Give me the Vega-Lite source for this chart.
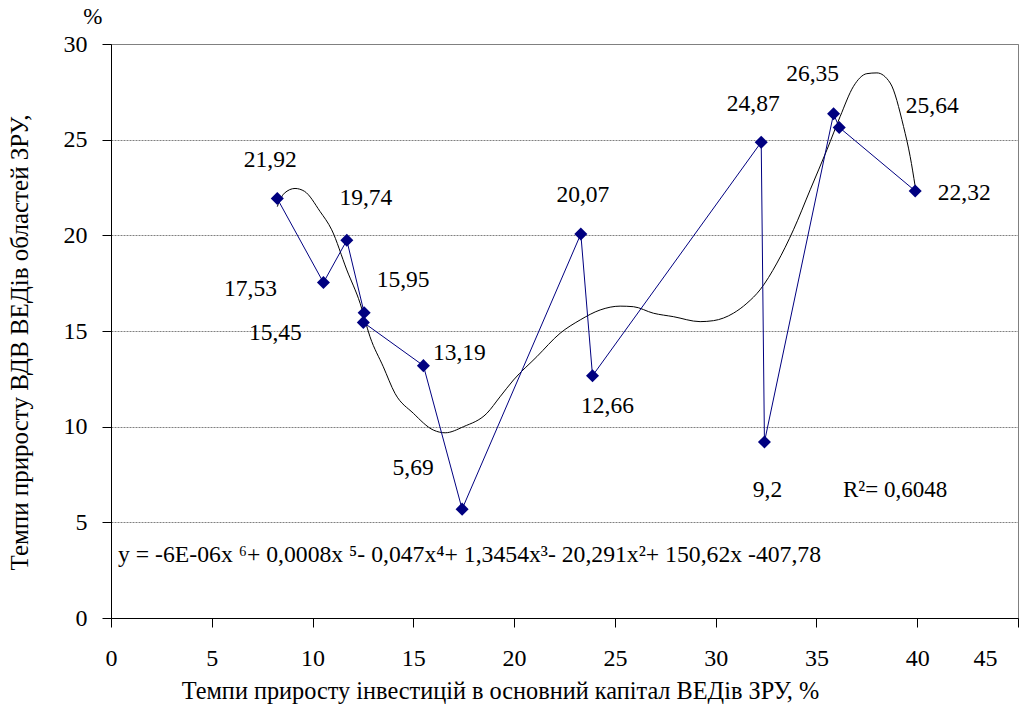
{
  "$schema": "https://vega.github.io/schema/vega-lite/v6.json",
  "width": 907,
  "height": 574,
  "autosize": "none",
  "padding": {"left": 111, "top": 44, "right": 2, "bottom": 86},
  "background": "white",
  "config": {
    "view": {"stroke": "#808080", "strokeWidth": 1},
    "font": "Liberation Serif",
    "axis": {"labelFont": "Liberation Serif", "titleFont": "Liberation Serif"},
    "text": {"font": "Liberation Serif", "fontSize": 23.5, "color": "black", "align": "center", "baseline": "middle"}
  },
  "datasets": {
    "pts": [
      {"i": 1, "x": 8.25, "y": 21.92, "lab": "21,92"},
      {"i": 2, "x": 10.54, "y": 17.53, "lab": "17,53"},
      {"i": 3, "x": 11.70, "y": 19.74, "lab": "19,74"},
      {"i": 4, "x": 12.56, "y": 15.95, "lab": "15,95"},
      {"i": 5, "x": 12.52, "y": 15.45, "lab": "15,45"},
      {"i": 6, "x": 15.50, "y": 13.19, "lab": "13,19"},
      {"i": 7, "x": 17.42, "y": 5.69, "lab": "5,69"},
      {"i": 8, "x": 23.31, "y": 20.07, "lab": "20,07"},
      {"i": 9, "x": 23.89, "y": 12.66, "lab": "12,66"},
      {"i": 10, "x": 32.26, "y": 24.87, "lab": "24,87"},
      {"i": 11, "x": 32.42, "y": 9.2, "lab": "9,2"},
      {"i": 12, "x": 35.85, "y": 26.35, "lab": "26,35"},
      {"i": 13, "x": 36.13, "y": 25.64, "lab": "25,64"},
      {"i": 14, "x": 39.90, "y": 22.32, "lab": "22,32"}
    ],
    "trend": [
      {"tx": 8.25, "ty": 21.5},
      {"tx": 8.6, "ty": 22.2},
      {"tx": 9.13, "ty": 22.45},
      {"tx": 9.6, "ty": 22.3},
      {"tx": 10.37, "ty": 21.25},
      {"tx": 10.95, "ty": 20.29},
      {"tx": 11.7, "ty": 18.19},
      {"tx": 12.36, "ty": 16.45},
      {"tx": 12.85, "ty": 14.7},
      {"tx": 13.51, "ty": 13.13},
      {"tx": 14.09, "ty": 11.74},
      {"tx": 15.0, "ty": 10.7},
      {"tx": 16.0, "ty": 9.82},
      {"tx": 16.58, "ty": 9.68},
      {"tx": 17.49, "ty": 10.0},
      {"tx": 18.65, "ty": 10.7},
      {"tx": 19.3, "ty": 11.56},
      {"tx": 19.97, "ty": 12.44},
      {"tx": 21.13, "ty": 13.66},
      {"tx": 22.28, "ty": 14.88},
      {"tx": 23.28, "ty": 15.58},
      {"tx": 24.27, "ty": 16.1},
      {"tx": 25.26, "ty": 16.3},
      {"tx": 25.92, "ty": 16.27},
      {"tx": 26.91, "ty": 15.93},
      {"tx": 27.9, "ty": 15.75},
      {"tx": 29.23, "ty": 15.49},
      {"tx": 29.89, "ty": 15.54},
      {"tx": 30.88, "ty": 15.93},
      {"tx": 31.55, "ty": 16.45},
      {"tx": 32.2, "ty": 17.15},
      {"tx": 33.04, "ty": 18.55},
      {"tx": 33.86, "ty": 20.29},
      {"tx": 34.69, "ty": 22.38},
      {"tx": 35.52, "ty": 24.47},
      {"tx": 36.18, "ty": 26.22},
      {"tx": 36.84, "ty": 27.79},
      {"tx": 37.5, "ty": 28.45},
      {"tx": 38.0, "ty": 28.49},
      {"tx": 38.66, "ty": 27.96},
      {"tx": 39.32, "ty": 25.69},
      {"tx": 39.65, "ty": 24.12},
      {"tx": 39.9, "ty": 22.55}
    ],
    "one": [{"k": 1}]
  },
  "layer": [
    {
      "data": {"name": "trend"},
      "mark": {"type": "line", "color": "black", "strokeWidth": 1, "interpolate": "monotone"},
      "encoding": {
        "x": {
          "field": "tx", "type": "quantitative",
          "scale": {"domain": [0, 45], "nice": false, "zero": false},
          "axis": {
            "values": [0, 5, 10, 15, 20, 25, 30, 35, 40, 45],
            "grid": false,
            "domainColor": "black", "tickColor": "black", "tickSize": 9,
            "labelFontSize": 24, "labelColor": "black",
            "labelPadding": 19,
            "labelOffset": {"condition": {"test": "datum.value == 45", "value": -33}, "value": 0},
            "labelFlush": false,
            "title": "Темпи приросту інвестицій в основний капітал ВЕДів ЗРУ, %",
            "titleFontSize": 24.3, "titleFontWeight": "normal", "titleColor": "black",
            "titleX": 389, "titleY": 73, "titleBaseline": "middle", "titleAlign": "center"
          }
        },
        "y": {
          "field": "ty", "type": "quantitative",
          "scale": {"domain": [0, 30], "nice": false},
          "axis": {
            "values": [0, 5, 10, 15, 20, 25, 30],
            "grid": true, "gridColor": "#808080", "gridDash": [2, 1], "gridWidth": 1,
            "domainColor": "black", "tickColor": "black", "tickSize": 9,
            "labelFontSize": 24, "labelColor": "black",
            "labelPadding": 15,
            "title": "Темпи приросту ВДВ ВЕДів областей ЗРУ,",
            "titleFontSize": 25, "titleFontWeight": "normal", "titleColor": "black",
            "titleX": -92, "titleY": 298, "titleBaseline": "middle", "titleAlign": "center", "titleAngle": -90
          }
        }
      }
    },
    {
      "data": {"name": "pts"},
      "mark": {"type": "line", "color": "#000080", "strokeWidth": 1},
      "encoding": {
        "x": {"field": "x", "type": "quantitative"},
        "y": {"field": "y", "type": "quantitative"},
        "order": {"field": "i", "type": "quantitative"}
      }
    },
    {
      "data": {"name": "pts"},
      "mark": {"type": "point", "shape": "diamond", "filled": true, "size": 170, "color": "#000080", "opacity": 1},
      "encoding": {
        "x": {"field": "x", "type": "quantitative"},
        "y": {"field": "y", "type": "quantitative"}
      }
    },
    {"data": {"name": "pts"}, "transform": [{"filter": "datum.i == 1"}], "mark": {"type": "text", "dx": -7, "dy": -39}, "encoding": {"x": {"field": "x", "type": "quantitative"}, "y": {"field": "y", "type": "quantitative"}, "text": {"field": "lab"}}},
    {"data": {"name": "pts"}, "transform": [{"filter": "datum.i == 2"}], "mark": {"type": "text", "dx": -73, "dy": 6}, "encoding": {"x": {"field": "x", "type": "quantitative"}, "y": {"field": "y", "type": "quantitative"}, "text": {"field": "lab"}}},
    {"data": {"name": "pts"}, "transform": [{"filter": "datum.i == 3"}], "mark": {"type": "text", "dx": 19, "dy": -42}, "encoding": {"x": {"field": "x", "type": "quantitative"}, "y": {"field": "y", "type": "quantitative"}, "text": {"field": "lab"}}},
    {"data": {"name": "pts"}, "transform": [{"filter": "datum.i == 4"}], "mark": {"type": "text", "dx": 39, "dy": -33}, "encoding": {"x": {"field": "x", "type": "quantitative"}, "y": {"field": "y", "type": "quantitative"}, "text": {"field": "lab"}}},
    {"data": {"name": "pts"}, "transform": [{"filter": "datum.i == 5"}], "mark": {"type": "text", "dx": -88, "dy": 11}, "encoding": {"x": {"field": "x", "type": "quantitative"}, "y": {"field": "y", "type": "quantitative"}, "text": {"field": "lab"}}},
    {"data": {"name": "pts"}, "transform": [{"filter": "datum.i == 6"}], "mark": {"type": "text", "dx": 36, "dy": -13}, "encoding": {"x": {"field": "x", "type": "quantitative"}, "y": {"field": "y", "type": "quantitative"}, "text": {"field": "lab"}}},
    {"data": {"name": "pts"}, "transform": [{"filter": "datum.i == 7"}], "mark": {"type": "text", "dx": -49, "dy": -41}, "encoding": {"x": {"field": "x", "type": "quantitative"}, "y": {"field": "y", "type": "quantitative"}, "text": {"field": "lab"}}},
    {"data": {"name": "pts"}, "transform": [{"filter": "datum.i == 8"}], "mark": {"type": "text", "dx": 2, "dy": -39}, "encoding": {"x": {"field": "x", "type": "quantitative"}, "y": {"field": "y", "type": "quantitative"}, "text": {"field": "lab"}}},
    {"data": {"name": "pts"}, "transform": [{"filter": "datum.i == 9"}], "mark": {"type": "text", "dx": 15, "dy": 30}, "encoding": {"x": {"field": "x", "type": "quantitative"}, "y": {"field": "y", "type": "quantitative"}, "text": {"field": "lab"}}},
    {"data": {"name": "pts"}, "transform": [{"filter": "datum.i == 10"}], "mark": {"type": "text", "dx": -8, "dy": -38}, "encoding": {"x": {"field": "x", "type": "quantitative"}, "y": {"field": "y", "type": "quantitative"}, "text": {"field": "lab"}}},
    {"data": {"name": "pts"}, "transform": [{"filter": "datum.i == 11"}], "mark": {"type": "text", "dx": 3, "dy": 48}, "encoding": {"x": {"field": "x", "type": "quantitative"}, "y": {"field": "y", "type": "quantitative"}, "text": {"field": "lab"}}},
    {"data": {"name": "pts"}, "transform": [{"filter": "datum.i == 12"}], "mark": {"type": "text", "dx": -21, "dy": -40}, "encoding": {"x": {"field": "x", "type": "quantitative"}, "y": {"field": "y", "type": "quantitative"}, "text": {"field": "lab"}}},
    {"data": {"name": "pts"}, "transform": [{"filter": "datum.i == 13"}], "mark": {"type": "text", "dx": 93, "dy": -21}, "encoding": {"x": {"field": "x", "type": "quantitative"}, "y": {"field": "y", "type": "quantitative"}, "text": {"field": "lab"}}},
    {"data": {"name": "pts"}, "transform": [{"filter": "datum.i == 14"}], "mark": {"type": "text", "dx": 49, "dy": 2}, "encoding": {"x": {"field": "x", "type": "quantitative"}, "y": {"field": "y", "type": "quantitative"}, "text": {"field": "lab"}}},
    {
      "data": {"name": "one"},
      "mark": {"type": "text", "align": "left", "fontSize": 23.7},
      "encoding": {"x": {"datum": 0.35}, "y": {"datum": 3.28}, "text": {"value": "y = -6E-06x ⁶+ 0,0008x ⁵- 0,047x⁴+ 1,3454x³- 20,291x²+ 150,62x -407,78"}}
    },
    {
      "data": {"name": "one"},
      "mark": {"type": "text", "align": "center", "fontSize": 23},
      "encoding": {"x": {"datum": 38.9}, "y": {"datum": 6.68}, "text": {"value": "R²= 0,6048"}}
    },
    {
      "data": {"name": "one"},
      "mark": {"type": "text", "align": "center", "fontSize": 23},
      "encoding": {"x": {"datum": -0.9}, "y": {"datum": 31.4}, "text": {"value": "%"}}
    }
  ]
}
